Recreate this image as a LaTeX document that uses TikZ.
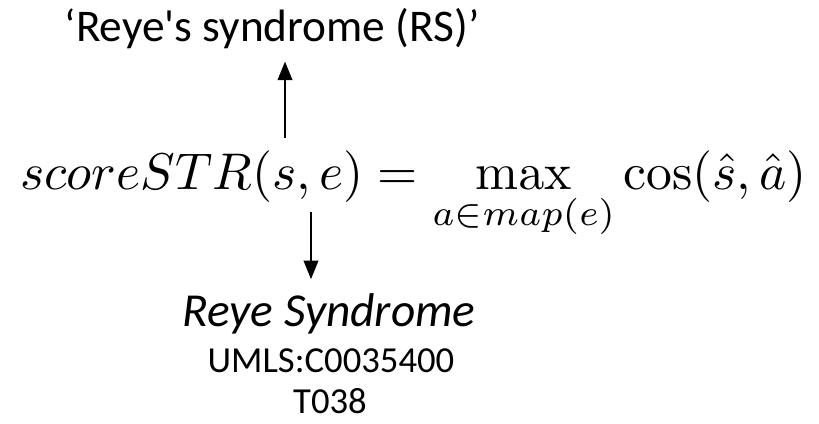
\documentclass[tikz,border=0pt]{standalone}
\usepackage{amsmath,amssymb}
\usepackage[no-math]{fontspec}
\setmainfont{Carlito}
\usepackage{tikz}
\usetikzlibrary{calc,arrows.meta,positioning}
\definecolor{inkc}{HTML}{000000}
\tikzset{
  ar/.style={-{Triangle[length=14pt,width=11pt]},line width=1.5pt,inkc},
  lbl/.style={inner sep=0pt,font=\fontsize{34}{40}\selectfont,text=inkc},
  idl/.style={inner sep=0pt,font=\fontsize{27.5}{33}\selectfont,text=inkc}
}

\begin{document}
\begin{tikzpicture}[x=0.75pt,y=-0.75pt]
\useasboundingbox (0,0) rectangle (819,424);
\node[anchor=base west,inner sep=0pt] (eq) at (20,190)
  {\resizebox{590pt}{!}{$\displaystyle scoreSTR(s,e)=\max_{a\in map(e)}\cos(\hat{s},\hat{a})$}};
\node[lbl,anchor=base] (rs) at (272,42) {‘Reye\textquotesingle s syndrome (RS)’};
\node[lbl,anchor=base,font=\fontsize{35.5}{42}\selectfont\itshape] (ename) at (329,327) {Reye Syndrome};
\node[idl,anchor=base] (cui) at (331,373) {UMLS:C0035400};
\node[idl,anchor=base] (tui) at (330,414) {T038};
% arrows
\coordinate (sfoot) at (285,138);
\coordinate (efoot) at (311,212);
\draw[ar,shorten >=9pt] (sfoot) -- (sfoot |- rs.south);
\draw[ar,shorten >=11pt] (efoot) -- (efoot |- ename.north);
\end{tikzpicture}
\end{document}
